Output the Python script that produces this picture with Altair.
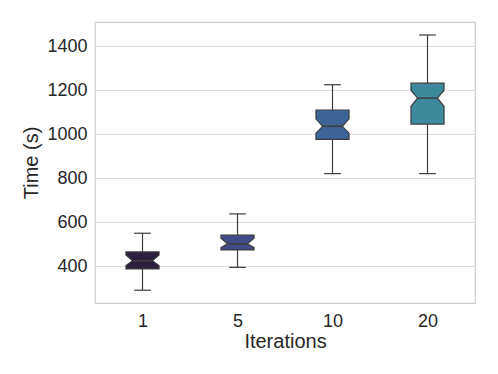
import altair as alt
import pandas as pd

categories = ["1", "5", "10", "20"]
whisker_low = [291, 395, 821, 821]
q1 = [388, 474, 977, 1046]
notch_low = [403, 485, 1005, 1127]
median = [425, 502, 1036, 1164]
notch_high = [451, 527, 1070, 1200]
q3 = [465, 542, 1110, 1232]
whisker_high = [550, 638, 1225, 1451]
colors = ["#2b1f3d", "#434a8a", "#3d6598", "#3c8a9b"]

BOX_HW = 0.174
NOTCH_HW = 0.104
CAP_HW = 0.088
EDGE = "#3d3d3d"

# notched box outline rows
rows = []
for i, c in enumerate(categories):
    for v, hw in [(q1[i], BOX_HW), (notch_low[i], BOX_HW), (median[i], NOTCH_HW),
                  (notch_high[i], BOX_HW), (q3[i], BOX_HW)]:
        rows.append({"cat": c, "v": v, "xl": i - hw, "xr": i + hw})
box_df = pd.DataFrame(rows)

stats = pd.DataFrame({
    "cat": categories,
    "pos": list(range(len(categories))),
    "wl": whisker_low, "q1": q1, "med": median, "q3": q3, "wh": whisker_high,
})
stats["nl"] = stats["pos"] - NOTCH_HW
stats["nr"] = stats["pos"] + NOTCH_HW
stats["cl"] = stats["pos"] - CAP_HW
stats["cr"] = stats["pos"] + CAP_HW

label_expr = "[" + ",".join("'%s'" % c for c in categories) + "][datum.value]"

xscale = alt.Scale(domain=[-0.5, len(categories) - 0.5], nice=False, zero=False)
yscale = alt.Scale(domain=[233, 1510], nice=False, zero=False)

xaxis = alt.Axis(title="Iterations", values=list(range(len(categories))), labelExpr=label_expr,
                 grid=False, ticks=False, domain=False, labelPadding=9, titlePadding=1)
yaxis = alt.Axis(title="Time (s)", values=[400, 600, 800, 1000, 1200, 1400], format="d",
                 ticks=False, domain=False, labelPadding=8, titlePadding=5)

color = alt.Color("cat:N", scale=alt.Scale(domain=categories, range=colors), legend=None)

whisk_lo = alt.Chart(stats).mark_rule(color=EDGE, strokeWidth=1.2).encode(
    x=alt.X("pos:Q", scale=xscale, axis=xaxis),
    y=alt.Y("wl:Q", scale=yscale, axis=yaxis), y2="q1:Q")
whisk_hi = alt.Chart(stats).mark_rule(color=EDGE, strokeWidth=1.2).encode(
    x=alt.X("pos:Q", scale=xscale), y=alt.Y("q3:Q", scale=yscale), y2="wh:Q")
cap_lo = alt.Chart(stats).mark_rule(color=EDGE, strokeWidth=1.2).encode(
    x=alt.X("cl:Q", scale=xscale), x2="cr:Q", y=alt.Y("wl:Q", scale=yscale))
cap_hi = alt.Chart(stats).mark_rule(color=EDGE, strokeWidth=1.2).encode(
    x=alt.X("cl:Q", scale=xscale), x2="cr:Q", y=alt.Y("wh:Q", scale=yscale))
boxes = alt.Chart(box_df).mark_area(orient="horizontal", stroke=EDGE, strokeWidth=1.2,
                                    opacity=1, interpolate="linear").encode(
    y=alt.Y("v:Q", scale=yscale), x=alt.X("xl:Q", scale=xscale), x2="xr:Q", color=color)
med = alt.Chart(stats).mark_rule(color=EDGE, strokeWidth=1.5).encode(
    x=alt.X("nl:Q", scale=xscale), x2="nr:Q", y=alt.Y("med:Q", scale=yscale))

chart = alt.layer(whisk_lo, whisk_hi, cap_lo, cap_hi, boxes, med).properties(
    width=380, height=281,
    background="white",
    autosize=alt.AutoSizeParams(type="none"),
    padding={"left": 87, "top": 14, "right": 15, "bottom": 60},
).configure_view(stroke="#cccccc", strokeWidth=1.2).configure_axis(
    labelFont="Liberation Sans", titleFont="Liberation Sans",
    labelFontSize=18, titleFontSize=20, labelColor="#262626", titleColor="#262626",
    titleFontWeight="normal", gridColor="#dddddd", gridWidth=1.2,
)

chart.save("out.html", embed_options={"renderer": "svg", "actions": False})
